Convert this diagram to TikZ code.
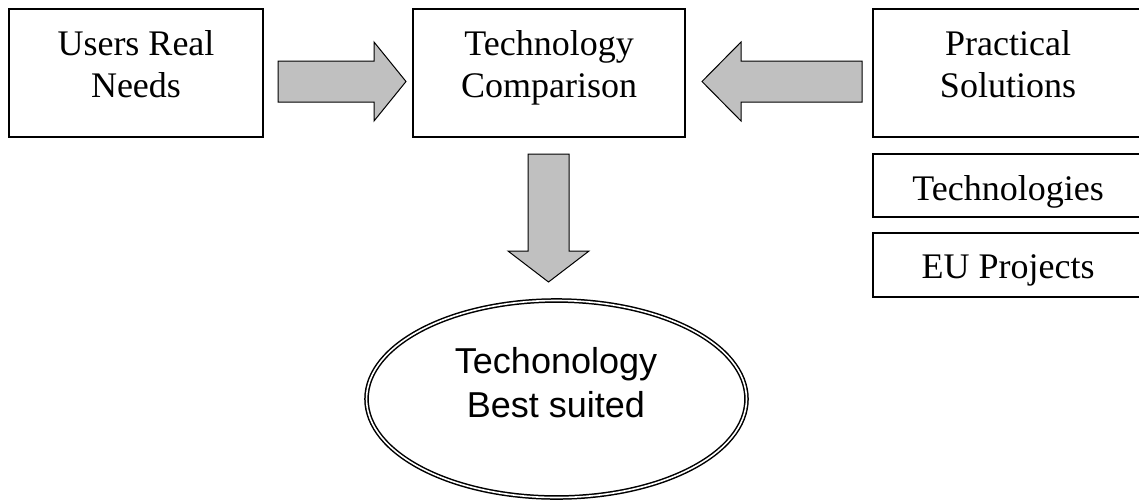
\documentclass[tikz,border=0pt]{standalone}
\usepackage{fontspec}
\setmainfont{Liberation Serif}
\newfontfamily\arialfont{Liberation Sans}
\begin{document}
\begin{tikzpicture}[x=1pt,y=-1pt,
  box/.style={draw=black, line width=1.4pt, fill=white, inner sep=0pt, outer sep=0pt},
  txt/.style={anchor=base, inner sep=0pt, font=\fontsize{36}{43}\selectfont},
  stxt/.style={anchor=base, inner sep=0pt, font=\arialfont\fontsize{36}{43}\selectfont},
  blockarrow/.style={draw=black, line width=1pt, fill={rgb,255:red,192;green,192;blue,192}, line join=miter}]
\useasboundingbox (0,0) rectangle (1139,501);
\clip (0,0) rectangle (1139,501);
% boxes
\node[box, minimum width=254pt, minimum height=128pt] (users) at (136,73) {};
\node[box, minimum width=272pt, minimum height=128pt] (comp) at (549,73) {};
\node[box, minimum width=270pt, minimum height=128pt] (prac) at (1008,73) {};
\node[box, minimum width=270pt, minimum height=63pt] (tech) at (1008,185.5) {};
\node[box, minimum width=270pt, minimum height=64pt] (eu) at (1008,265) {};
% texts
\node[txt] (users1) at (136,55) {Users Real};
\node[txt] (users2) at (136,97.5) {Needs};
\node[txt] (comp1) at (549,55) {Technology};
\node[txt] (comp2) at (549,97.5) {Comparison};
\node[txt] (prac1) at (1008,55) {Practical};
\node[txt] (prac2) at (1008,97.5) {Solutions};
\node[txt] (tech1) at (1008,200) {Technologies};
\node[txt] (eu1) at (1008,278) {EU Projects};
% ellipse
\draw[line width=1.5pt, double=white, double distance=1.6pt] (556.5,399) ellipse [x radius=190, y radius=98.5];
\coordinate (best) at (556.5,399);
\node[stxt] (best1) at (556,373) {Techonology};
\node[stxt] (best2) at (556,417) {Best suited};
% block arrows
\draw[blockarrow] (278,61) -- (374,61) -- (374,42) -- (406,81.5) -- (374,121) -- (374,102) -- (278,102) -- cycle;
\draw[blockarrow] (862,61) -- (741,61) -- (741,42) -- (702,81.5) -- (741,121) -- (741,102) -- (862,102) -- cycle;
\draw[blockarrow] (528,154) -- (569,154) -- (569,251) -- (589,251) -- (548.5,282) -- (508,251) -- (528,251) -- cycle;
\end{tikzpicture}
\end{document}
